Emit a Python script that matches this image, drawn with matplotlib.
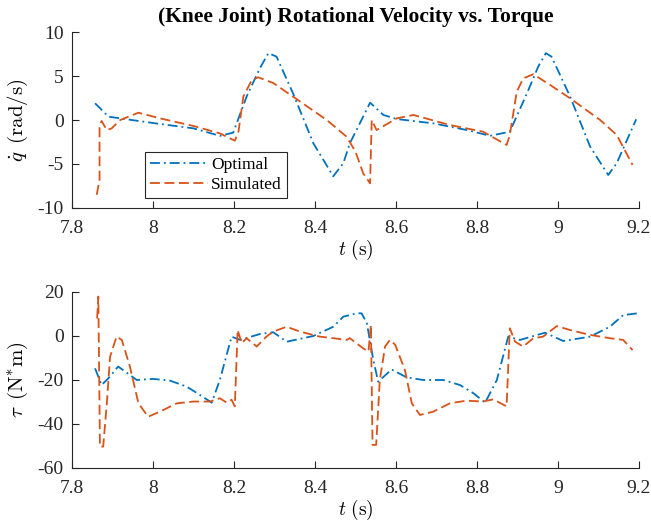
import numpy as np
import matplotlib.pyplot as plt
from matplotlib.ticker import FuncFormatter

plt.rcParams["font.family"] = ["Liberation Serif", "DejaVu Serif"]
plt.rcParams["mathtext.fontset"] = "cm"
plt.rcParams["axes.unicode_minus"] = False

# velocity, optimal (blue dash-dot)
t_vel_opt = [7.857, 7.89, 7.935, 8.017, 8.1, 8.165, 8.198, 8.231, 8.264, 8.285, 8.305,
             8.346, 8.396, 8.445, 8.47, 8.486, 8.511, 8.536, 8.569, 8.602, 8.692, 8.775,
             8.832, 8.881, 8.923, 8.951, 8.97, 8.984, 9.03, 9.079, 9.124, 9.145, 9.193]
q_vel_opt = [1.9, 0.38, 0.08, -0.45, -0.95, -1.8, -1.44, 2.65, 5.9, 7.6, 7.2,
             3.0, -2.65, -6.4, -4.9, -2.65, -0.35, 1.97, 0.57, 0.11, -0.38, -1.14,
             -1.8, -1.33, 3.0, 6.06, 7.6, 7.2, 2.65, -3.0, -6.25, -4.9, 0.08]

# velocity, simulated (orange dashed)
t_vel_sim = [7.861, 7.868, 7.868, 7.873, 7.886, 7.898, 7.919, 7.964, 8.017, 8.1, 8.165,
             8.202, 8.211, 8.223, 8.244, 8.26, 8.297, 8.346, 8.429, 8.478, 8.5, 8.519,
             8.536, 8.54, 8.552, 8.602, 8.643, 8.733, 8.815, 8.873, 8.881, 8.898, 8.914,
             8.939, 8.98, 9.03, 9.104, 9.145, 9.184]
q_vel_sim = [-8.5, -6.8, -0.76, -0.11, -1.14, -0.95, 0.0, 0.83, 0.19, -0.68, -1.52,
             -2.35, -1.33, 2.65, 4.55, 4.85, 4.2, 2.65, 0.0, -1.9, -3.6, -6.06,
             -7.2, 0.0, -1.14, 0.19, 0.57, -0.57, -1.33, -2.84, -1.7, 3.2, 4.73,
             5.2, 4.0, 2.46, 0.0, -1.7, -5.1]

# torque, optimal
t_tau_opt = [7.857, 7.873, 7.89, 7.914, 7.96, 8.0, 8.042, 8.083, 8.116, 8.145, 8.165,
             8.194, 8.215, 8.264, 8.297, 8.33, 8.396, 8.445, 8.47, 8.503, 8.515, 8.528,
             8.544, 8.556, 8.589, 8.626, 8.667, 8.717, 8.758, 8.791, 8.82, 8.849, 8.877,
             8.906, 8.968, 9.013, 9.079, 9.128, 9.161, 9.196]
tau_opt = [-14.7, -22.3, -19.2, -13.9, -20.0, -19.5, -20.3, -23.0, -26.8, -30.3, -20.0,
           -0.3, -1.8, 0.9, 1.7, -2.6, 0.0, 4.2, 8.8, 10.3, 10.3, 5.8,
           -10.9, -20.8, -15.2, -18.8, -20.0, -20.0, -22.3, -26.0, -30.3, -20.0, -0.3,
           -1.8, 1.5, -2.3, -0.3, 4.2, 9.5, 10.3]

# torque, simulated
t_tau_sim = [7.862, 7.865, 7.869, 7.877, 7.886, 7.894, 7.91, 7.923, 7.943, 7.964, 7.988,
             8.017, 8.059, 8.1, 8.141, 8.165, 8.182, 8.194, 8.202, 8.209, 8.219, 8.231,
             8.256, 8.28, 8.297, 8.33, 8.363, 8.412, 8.445, 8.478, 8.486, 8.511, 8.519,
             8.532, 8.538, 8.542, 8.551, 8.56, 8.573, 8.585, 8.598, 8.622, 8.639, 8.659,
             8.692, 8.733, 8.774, 8.815, 8.84, 8.873, 8.881, 8.894, 8.914, 8.939, 8.963,
             8.997, 9.03, 9.079, 9.128, 9.161, 9.184]
tau_sim = [8.0, 17.9, -50.3, -50.3, -30.6, -9.4, -0.3, -1.8, -13.9, -30.6, -36.7,
           -34.4, -30.6, -29.8, -29.8, -28.3, -30.3, -29.0, -32.0, 2.7, -3.3, -1.0,
           -4.8, -0.3, 2.0, 4.2, 2.0, -0.3, -1.0, -1.8, -1.0, -4.5, -5.6,
           -7.1, 5.0, -49.5, -49.5, -20.0, -4.8, -1.8, -4.0, -15.5, -30.6, -35.9,
           -34.4, -30.6, -29.4, -29.8, -28.8, -32.0, 3.5, -2.6, -4.8, -1.0, -0.3,
           4.5, 2.7, 0.5, -1.0, -1.8, -6.4]

x_ticks = [7.8, 8.0, 8.2, 8.4, 8.6, 8.8, 9.0, 9.2]
blue = "#0072BD"
orange = "#D95319"
dash = (5.5, 2.5)
dashdot = (5.5, 2.2, 1.0, 2.2)

fig = plt.figure(figsize=(6.51, 5.23), dpi=100)
ax1 = fig.add_axes([0.1106, 0.6023, 0.871, 0.3365])
ax2 = fig.add_axes([0.1106, 0.1052, 0.871, 0.3365])


def style(ax):
    for s in ["top", "right"]:
        ax.spines[s].set_visible(False)
    for s in ["left", "bottom"]:
        ax.spines[s].set_color("#262626")
        ax.spines[s].set_linewidth(0.8)
    ax.tick_params(direction="in", length=5, width=0.8, colors="#262626",
                   labelsize=14, labelcolor="#262626")
    ax.tick_params(axis="x", pad=9)
    ax.tick_params(axis="y", pad=6)
    ax.set_xlim(7.8, 9.2)
    ax.set_xticks(x_ticks)
    ax.xaxis.set_major_formatter(FuncFormatter(lambda v, p: "%g" % round(v, 2)))
    ax.set_xlabel(r"$t\ (\mathrm{s})$", fontsize=14, labelpad=0)


ax1.plot(t_vel_opt, q_vel_opt, color=blue, lw=1.3, dashes=dashdot, label="Optimal")
ax1.plot(t_vel_sim, q_vel_sim, color=orange, lw=1.3, dashes=dash, label="Simulated")
style(ax1)
ax1.set_ylim(-10, 10)
ax1.set_yticks([-10, -5, 0, 5, 10])
ax1.set_ylabel(r"$\dot{q}\ \,(\mathrm{rad/s})$", fontsize=15, labelpad=5)
ax1.set_title("(Knee Joint) Rotational Velocity vs. Torque", fontsize=15.5,
              fontweight="bold", pad=7)
leg = ax1.legend(loc="lower left", bbox_to_anchor=(0.129, 0.057), borderaxespad=0,
                 fontsize=12.5, fancybox=False, edgecolor="#262626", framealpha=1,
                 handlelength=3.3, borderpad=0.3, labelspacing=0.2, handletextpad=0.2)
leg.get_frame().set_linewidth(0.8)

ax2.plot(t_tau_opt, tau_opt, color=blue, lw=1.3, dashes=dashdot)
ax2.plot(t_tau_sim, tau_sim, color=orange, lw=1.3, dashes=dash)
style(ax2)
ax2.set_ylim(-60, 20)
ax2.set_yticks([-60, -40, -20, 0, 20])
ax2.set_ylabel(r"$\tau\ \,(\mathrm{N^{*}m})$", fontsize=15, labelpad=5)

fig.savefig("out.png", dpi=100)
